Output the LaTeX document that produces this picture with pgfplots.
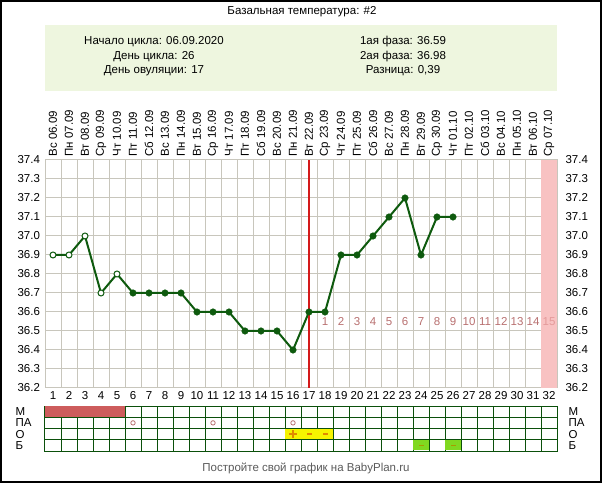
\documentclass[border=0pt]{standalone}
\usepackage{fontspec}
\setmainfont{Liberation Sans}
\usepackage{pgfplots}
\usepackage{pgfplotstable}
\pgfplotsset{compat=1.18}
\usetikzlibrary{plotmarks}

\definecolor{bpgreen}{HTML}{0E5A0E}
\definecolor{bpgrid}{HTML}{C8C6BC}
\definecolor{bpred}{HTML}{D41A1A}
\definecolor{bppink}{HTML}{F8C2C2}
\definecolor{bpnum}{HTML}{B87070}
\definecolor{bpnumlight}{HTML}{E49A9A}
\definecolor{bpbox}{HTML}{EEF6DF}
\definecolor{bpmens}{HTML}{CD5C5C}
\definecolor{bpyellow}{HTML}{F6F400}
\definecolor{bplime}{HTML}{80D820}
\definecolor{bporange}{HTML}{E08A00}
\definecolor{bpolive}{HTML}{A89A00}
\definecolor{bpfoot}{HTML}{5A5A5A}
\definecolor{bptable}{HTML}{0B500B}

\newcommand\fs{\fontsize{11.5bp}{13bp}\selectfont}

% basal temperature by cycle day
\pgfplotstableread{
day temp
1 36.9
2 36.9
3 37.0
4 36.7
5 36.8
6 36.7
7 36.7
8 36.7
9 36.7
10 36.6
11 36.6
12 36.6
13 36.5
14 36.5
15 36.5
16 36.4
17 36.6
18 36.6
19 36.9
20 36.9
21 37.0
22 37.1
23 37.2
24 36.9
25 37.1
26 37.1
}\temps

% second phase day numbers
\pgfplotstableread{
x y lab
18 36.55 1
19 36.55 2
20 36.55 3
21 36.55 4
22 36.55 5
23 36.55 6
24 36.55 7
25 36.55 8
26 36.55 9
27 36.55 10
28 36.55 11
29 36.55 12
30 36.55 13
31 36.55 14
}\phase

\pgfplotsset{
  bpbase/.style={
    scale only axis, width=512bp, anchor=south west,
    xmin=0.5, xmax=32.5,
    major tick length=0pt, minor tick length=0pt,
    tick label style={font=\fs, text=black},
    /pgf/number format/assume math mode=true,
  },
}

\begin{document}
\begin{tikzpicture}
\useasboundingbox (0,0) rectangle (602bp,483bp);
\draw[line width=2bp] (1bp,1bp) rectangle (601bp,482bp);

\node[font=\fs] at (302bp,471bp) {Базальная температура: \#2};
\fill[bpbox] (45bp,392bp) rectangle (557bp,458bp);
\node[font=\fs] at (154bp,441bp) {Начало цикла: 06.09.2020};
\node[font=\fs] at (154bp,426.5bp) {День цикла: 26};
\node[font=\fs] at (154bp,412bp) {День овуляции: 17};
\node[font=\fs] at (403bp,441bp) {1ая фаза: 36.59};
\node[font=\fs] at (403bp,426.5bp) {2ая фаза: 36.98};
\node[font=\fs] at (403bp,412bp) {Разница: 0,39};

% temperature chart
\begin{axis}[bpbase,
  at={(45bp,95bp)}, height=228bp,
  ymin=36.2, ymax=37.4,
  xtick={1,...,32},
  minor xtick={1.5,2.5,...,31.5},
  ytick={36.2,36.3,36.4,36.5,36.6,36.7,36.8,36.9,37.0,37.1,37.2,37.3,37.4},
  xminorgrids=true, ymajorgrids=true,
  grid style={bpgrid, line width=1bp},
  minor grid style={bpgrid, line width=1bp},
  axis line style={bpgrid, line width=1bp},
  yticklabel style={xshift=-1.5bp, /pgf/number format/.cd, fixed, fixed zerofill, precision=1},
  clip=false,
]
\addplot[fill=bppink, draw=none] coordinates {(31.5,36.2) (32.5,36.2) (32.5,37.4) (31.5,37.4)};
\addplot[bpgreen, line width=2bp, mark=none] table[x=day, y=temp] {\temps};
\addplot[only marks, mark=*, mark size=3bp, mark options={fill=white, draw=bpgreen, line width=1bp},
  restrict x to domain=1:5] table[x=day, y=temp] {\temps};
\addplot[only marks, mark=*, mark size=3.3bp, mark options={fill=bpgreen, draw=bpgreen},
  restrict x to domain=6:26] table[x=day, y=temp] {\temps};
\addplot[bpred, line width=2bp] coordinates {(17,36.2) (17,37.4)};
\addplot[only marks, mark=none, nodes near coords, point meta=explicit symbolic,
  nodes near coords style={anchor=center, font=\fs, text=bpnum}]
  table[x=x, y=y, meta=lab] {\phase};
\addplot[only marks, mark=none, nodes near coords, point meta=explicit symbolic,
  nodes near coords style={anchor=center, font=\fs, text=bpnumlight}]
  coordinates {(32,36.55) [15]};
\end{axis}

% right ticks and dates on top
\begin{axis}[bpbase,
  at={(45bp,95bp)}, height=228bp,
  ymin=36.2, ymax=37.4,
  axis line style={draw=none},
  xtick={1,...,32},
  xticklabel pos=right, yticklabel pos=right,
  xticklabels={Вс 06.09, Пн 07.09, Вт 08.09, Ср 09.09, Чт 10.09, Пт 11.09, Сб 12.09, Вс 13.09,
    Пн 14.09, Вт 15.09, Ср 16.09, Чт 17.09, Пт 18.09, Сб 19.09, Вс 20.09, Пн 21.09,
    Вт 22.09, Ср 23.09, Чт 24.09, Пт 25.09, Сб 26.09, Вс 27.09, Пн 28.09, Вт 29.09,
    Ср 30.09, Чт 01.10, Пт 02.10, Сб 03.10, Вс 04.10, Пн 05.10, Вт 06.10, Ср 07.10},
  xticklabel style={rotate=90, anchor=west},
  ytick={36.2,36.3,36.4,36.5,36.6,36.7,36.8,36.9,37.0,37.1,37.2,37.3,37.4},
  yticklabel style={xshift=5bp, /pgf/number format/.cd, fixed, fixed zerofill, precision=1},
]
\addplot[draw=none] coordinates {(1,36.2)};
\end{axis}

% marks table: grid behind, menstruation block covers its inner lines,
% the other cells are inset so their borders stay visible
\begin{axis}[bpbase,
  at={(45bp,32bp)}, height=45bp,
  ymin=0, ymax=4,
  xtick={1.5,2.5,...,31.5}, xticklabels={}, xmajorgrids=true,
  ytick={0.5,1.5,2.5,3.5}, yticklabels={Б,О,ПА,М},
  minor ytick={1,2,3}, yminorgrids=true,
  major grid style={bptable, line width=1bp},
  minor grid style={bptable, line width=1bp},
  axis line style={bptable, line width=1bp},
  yticklabel style={anchor=west, xshift=-33bp},
]
\addplot[fill=bpmens, draw=none] coordinates {(0.5,3.04) (5.53,3.04) (5.53,4) (0.5,4)};
\addplot[fill=bpyellow, draw=none] coordinates {(15.53,1.045) (16.47,1.045) (16.47,1.955) (15.53,1.955)};
\addplot[fill=bpyellow, draw=none] coordinates {(16.53,1.045) (17.47,1.045) (17.47,1.955) (16.53,1.955)};
\addplot[fill=bpyellow, draw=none] coordinates {(17.53,1.045) (18.47,1.045) (18.47,1.955) (17.53,1.955)};
\addplot[fill=bplime, draw=none] coordinates {(23.53,0.045) (24.47,0.045) (24.47,0.955) (23.53,0.955)};
\addplot[fill=bplime, draw=none] coordinates {(25.53,0.045) (26.47,0.045) (26.47,0.955) (25.53,0.955)};
\addplot[only marks, mark=o, mark size=2.2bp, bpnum, line width=0.8bp] coordinates {(6,2.5) (11,2.5) (16,2.5)};
\addplot[only marks, mark=+, mark size=4bp, bporange, line width=1.3bp] coordinates {(16,1.5)};
\addplot[only marks, mark=-, mark size=2.5bp, bporange, line width=1.3bp] coordinates {(17,1.5) (18,1.5)};
\addplot[only marks, mark=-, mark size=2.5bp, bpolive, line width=1.3bp] coordinates {(24,0.5) (26,0.5)};
\end{axis}

\begin{axis}[bpbase,
  at={(45bp,32bp)}, height=45bp,
  ymin=0, ymax=4,
  axis line style={draw=none},
  xtick=\empty,
  ytick={0.5,1.5,2.5,3.5}, yticklabels={Б,О,ПА,М},
  yticklabel pos=right,
  yticklabel style={xshift=8bp},
]
\addplot[draw=none] coordinates {(1,0)};
\end{axis}

\node[font=\fs, text=bpfoot] at (306bp,15bp) {Постройте свой график на BabyPlan.ru};
\end{tikzpicture}
\end{document}
